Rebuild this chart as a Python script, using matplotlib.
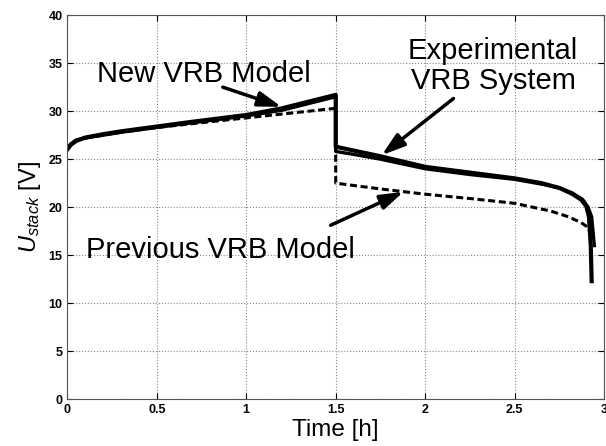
import matplotlib
matplotlib.use("Agg")
import matplotlib.pyplot as plt

plt.rcParams['font.family'] = ['Liberation Sans', 'DejaVu Sans']
plt.rcParams['mathtext.fontset'] = 'custom'
plt.rcParams['mathtext.it'] = 'Liberation Sans:italic'
plt.rcParams['mathtext.rm'] = 'Liberation Sans'

# experimental VRB system
exp_t = [0, 0.02, 0.05, 0.1, 0.2, 0.3, 0.5, 0.7, 1.0, 1.2, 1.35, 1.5,
         1.5, 1.6, 1.75, 2.0, 2.25, 2.5, 2.65, 2.75, 2.82, 2.87, 2.9, 2.915, 2.925, 2.93]
exp_v = [26.0, 26.5, 26.9, 27.25, 27.6, 27.9, 28.4, 28.9, 29.6, 30.3, 31.0, 31.7,
         26.3, 25.9, 25.3, 24.2, 23.6, 23.0, 22.5, 22.0, 21.4, 20.8, 20.1, 19.0, 16.0, 12.3]

# new VRB model
new_t = [0, 0.02, 0.05, 0.1, 0.2, 0.3, 0.5, 0.7, 1.0, 1.2, 1.35, 1.5,
         1.5, 1.6, 1.75, 2.0, 2.25, 2.5, 2.65, 2.75, 2.82, 2.88, 2.91, 2.93, 2.94, 2.945]
new_v = [26.1, 26.6, 27.0, 27.2, 27.5, 27.8, 28.3, 28.8, 29.5, 30.1, 30.8, 31.5,
         25.8, 25.5, 25.0, 24.0, 23.4, 22.9, 22.4, 22.0, 21.5, 20.8, 20.0, 19.0, 17.0, 16.0]

# previous VRB model (dashed)
prev_t = [0, 0.02, 0.05, 0.1, 0.2, 0.3, 0.5, 0.7, 1.0, 1.25, 1.5,
          1.5, 1.75, 2.0, 2.25, 2.5, 2.7, 2.8, 2.87, 2.91, 2.93]
prev_v = [26.0, 26.5, 26.9, 27.2, 27.5, 27.8, 28.3, 28.7, 29.3, 29.8, 30.3,
          22.5, 21.9, 21.35, 20.9, 20.4, 19.6, 19.0, 18.4, 17.9, 16.8]

fig = plt.figure(figsize=(6.06, 4.46), dpi=100)
ax = fig.add_axes([0.111, 0.105, 0.886, 0.861])

ax.plot(prev_t, prev_v, color='black', lw=2.2, ls=(0, (2.3, 1.2)))
ax.plot(new_t, new_v, color='black', lw=2.4)
ax.plot(exp_t, exp_v, color='black', lw=3.0)

ax.set_xlim(0, 3)
ax.set_ylim(0, 40)
ax.set_xticks([0, 0.5, 1, 1.5, 2, 2.5, 3])
ax.set_xticklabels(['0', '0.5', '1', '1.5', '2', '2.5', '3'])
ax.set_yticks(range(0, 41, 5))
ax.grid(True, color='#888888', ls=':', lw=0.8)
ax.tick_params(direction='in', top=True, right=True, labelsize=9, length=4)
for lab in ax.get_xticklabels() + ax.get_yticklabels():
    lab.set_fontweight('bold')
for s in ax.spines.values():
    s.set_color('#555555')

ax.set_xlabel('Time [h]', fontsize=17.5, labelpad=2)
ax.set_ylabel('$U_{stack}$ [V]', fontsize=17, labelpad=4)

arrow = dict(arrowstyle='-|>,head_width=0.45,head_length=1.4', color='black', lw=2.5,
             shrinkA=0, shrinkB=0)

ax.text(0.164, 33.0, 'New VRB Model', fontsize=21, ha='left', va='baseline')
ax.annotate('', xy=(1.197, 30.45), xytext=(0.869, 32.5), arrowprops=arrow)

ax.text(2.38, 35.4, 'Experimental', fontsize=21, ha='center', va='baseline')
ax.text(2.38, 32.3, 'VRB System', fontsize=21, ha='center', va='baseline')
ax.annotate('', xy=(1.757, 25.42), xytext=(2.158, 31.32), arrowprops=arrow)

ax.text(0.107, 14.7, 'Previous VRB Model', fontsize=21, ha='left', va='baseline')
ax.annotate('', xy=(1.879, 21.6), xytext=(1.472, 18.12), arrowprops=arrow)

fig.savefig('out.png', dpi=100)
